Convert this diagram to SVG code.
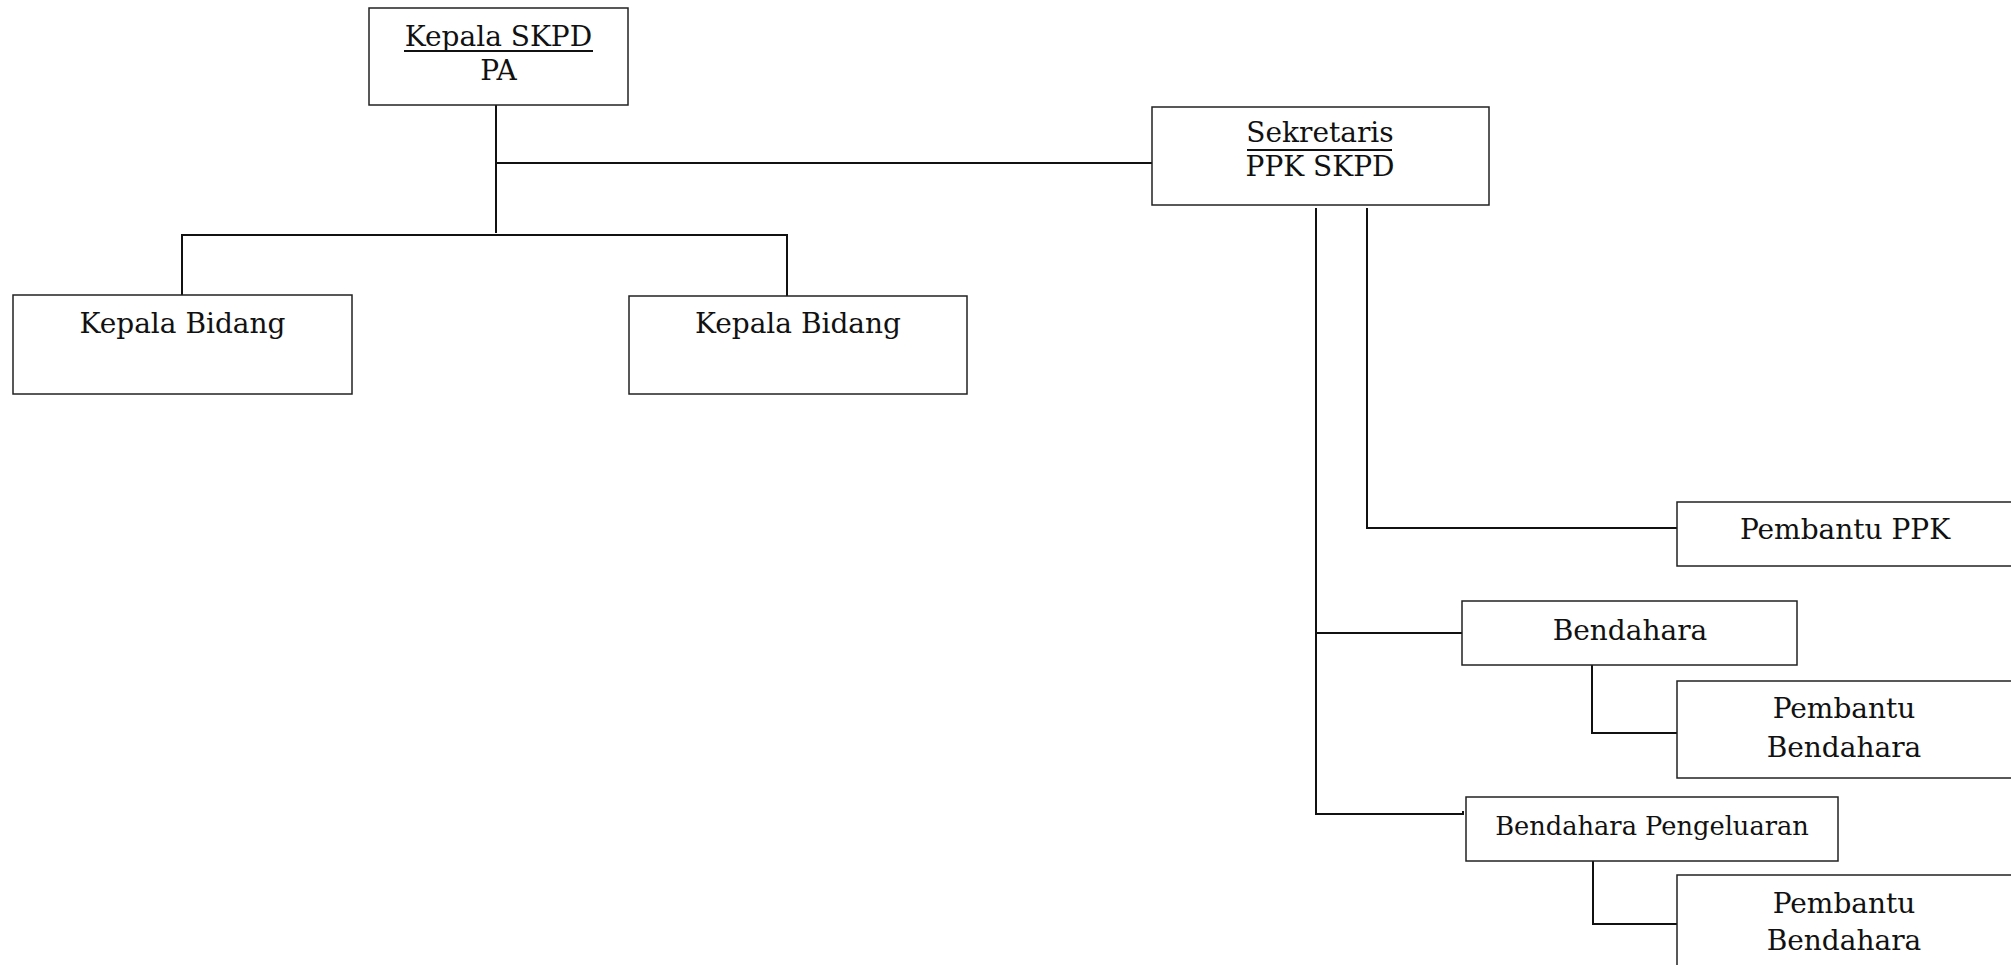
<svg xmlns="http://www.w3.org/2000/svg" width="2011" height="965" viewBox="0 0 2011 965">
<style>
.box{fill:#fff;stroke:#222;stroke-width:1.5}
.t{font-family:"DejaVu Serif","Liberation Serif",serif;font-size:28px;fill:#111;text-anchor:middle}
.s{font-size:25.7px}
.c{fill:none;stroke:#111;stroke-width:2}
.u{stroke:#111;stroke-width:1.8}
</style>
<rect width="2011" height="965" fill="#fff"/>
<g id="connectors">
<path class="c" d="M496 105V233"/>
<path class="c" d="M496 163H1152"/>
<path class="c" d="M182 295V235H787V296"/>
<path class="c" d="M1316 208V814H1463V811"/>
<path class="c" d="M1316 633H1462"/>
<path class="c" d="M1367 208V528H1677"/>
<path class="c" d="M1592 665V733H1677"/>
<path class="c" d="M1593 861V924H1677"/>
</g>
<g id="kepala-skpd">
<rect class="box" x="369" y="8" width="259" height="97"/>
<text class="t" x="498.5" y="46">Kepala SKPD</text>
<line class="u" x1="404" y1="51" x2="593" y2="51"/>
<text class="t" x="498.5" y="80">PA</text>
</g>
<g id="kepala-bidang-1">
<rect class="box" x="13" y="295" width="339" height="99"/>
<text class="t" x="182.5" y="333">Kepala Bidang</text>
</g>
<g id="kepala-bidang-2">
<rect class="box" x="629" y="296" width="338" height="98"/>
<text class="t" x="798" y="333">Kepala Bidang</text>
</g>
<g id="sekretaris">
<rect class="box" x="1152" y="107" width="337" height="98"/>
<text class="t" x="1320" y="142">Sekretaris</text>
<line class="u" x1="1247" y1="150" x2="1392" y2="150"/>
<text class="t" x="1320" y="176">PPK SKPD</text>
</g>
<g id="pembantu-ppk">
<rect class="box" x="1677" y="502" width="360" height="64"/>
<text class="t" x="1845" y="539">Pembantu PPK</text>
</g>
<g id="bendahara">
<rect class="box" x="1462" y="601" width="335" height="64"/>
<text class="t" x="1630" y="640">Bendahara</text>
</g>
<g id="pembantu-bendahara-1">
<rect class="box" x="1677" y="681" width="360" height="97"/>
<text class="t" x="1844" y="718">Pembantu</text>
<text class="t" x="1844" y="757">Bendahara</text>
</g>
<g id="bendahara-pengeluaran">
<rect class="box" x="1466" y="797" width="372" height="64"/>
<text class="t s" x="1652" y="835">Bendahara Pengeluaran</text>
</g>
<g id="pembantu-bendahara-2">
<rect class="box" x="1677" y="875" width="360" height="120"/>
<text class="t" x="1844" y="913">Pembantu</text>
<text class="t" x="1844" y="950">Bendahara</text>
</g>
</svg>
